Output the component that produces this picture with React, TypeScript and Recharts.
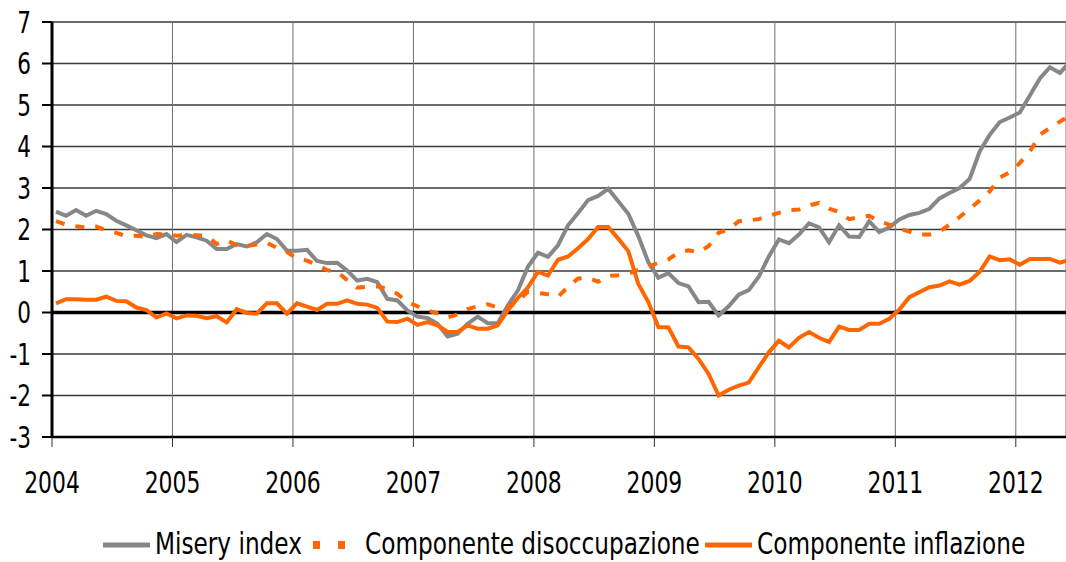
import { LineChart, Line, XAxis, YAxis, CartesianGrid, ReferenceLine, Legend } from "recharts";

const FONT = "'DejaVu Sans Condensed', 'DejaVu Sans', sans-serif";

// Jan 2004 .. Jun 2012, monthly
const yearLabels = ["2004", "2005", "2006", "2007", "2008", "2009", "2010", "2011", "2012"];

const misery = [
  2.43, 2.33, 2.47, 2.33, 2.45, 2.37, 2.21, 2.1, 1.98, 1.86, 1.79, 1.89,
  1.7, 1.87, 1.81, 1.73, 1.53, 1.53, 1.65, 1.59, 1.69, 1.89, 1.77, 1.49,
  1.49, 1.51, 1.24, 1.19, 1.2, 1.01, 0.77, 0.81, 0.73, 0.33, 0.29, 0.05,
  -0.1, -0.13, -0.27, -0.58, -0.51, -0.27, -0.1, -0.26, -0.26, 0.17, 0.53, 1.1,
  1.44, 1.34, 1.62, 2.1, 2.4, 2.71, 2.81, 2.98, 2.68, 2.38, 1.84, 1.21,
  0.84, 0.95, 0.71, 0.63, 0.25, 0.26, -0.07, 0.15, 0.43, 0.54, 0.86, 1.35,
  1.76, 1.67, 1.88, 2.15, 2.05, 1.69, 2.1, 1.83, 1.82, 2.2, 1.94, 2.05,
  2.24, 2.35, 2.4, 2.5, 2.75, 2.88, 3.0, 3.22, 3.88, 4.28, 4.59, 4.7,
  4.82, 5.23, 5.64, 5.91, 5.77, 6.05,
];

const disoccupazione = [
  2.2, 2.12, 2.08, 2.05, 2.07, 1.98, 1.92, 1.84, 1.85, 1.82, 1.89, 1.88,
  1.85, 1.87, 1.86, 1.85, 1.65, 1.74, 1.62, 1.6, 1.64, 1.68, 1.56, 1.46,
  1.3, 1.25, 1.15, 1.02, 0.98, 0.78, 0.6, 0.62, 0.63, 0.57, 0.45, 0.25,
  0.15, 0.05, -0.02, -0.12, -0.05, 0.08, 0.15, 0.2, 0.12, 0.12, 0.28, 0.5,
  0.47, 0.44, 0.38, 0.62, 0.82, 0.84, 0.74, 0.88, 0.9, 0.93, 1.03, 1.1,
  1.2, 1.28, 1.45, 1.5, 1.45, 1.6, 1.92, 2.0, 2.2, 2.22, 2.25, 2.33,
  2.4, 2.47, 2.48, 2.58, 2.64, 2.5, 2.42, 2.25, 2.3, 2.33, 2.2, 2.12,
  2.02, 1.95, 1.88, 1.88, 1.95, 2.12, 2.3, 2.5, 2.7, 2.92, 3.25, 3.38,
  3.6, 3.88, 4.28, 4.45, 4.6, 4.75,
];

const inflazione = [
  0.22, 0.32, 0.32, 0.31, 0.31, 0.38, 0.28, 0.27, 0.12, 0.06, -0.12, -0.02,
  -0.14, -0.07, -0.08, -0.14, -0.09, -0.24, 0.08, -0.01, -0.03, 0.22, 0.22, -0.03,
  0.22, 0.14, 0.06, 0.21, 0.21, 0.29, 0.21, 0.19, 0.11, -0.22, -0.23, -0.15,
  -0.3, -0.23, -0.31, -0.47, -0.47, -0.31, -0.39, -0.39, -0.31, 0.05, 0.35, 0.6,
  0.98, 0.89, 1.27, 1.35, 1.55, 1.77, 2.06, 2.06, 1.78, 1.48, 0.69, 0.25,
  -0.35, -0.36, -0.82, -0.84, -1.12, -1.48, -2.0, -1.86, -1.76, -1.69, -1.32, -0.96,
  -0.68, -0.84, -0.61, -0.47, -0.61, -0.71, -0.34, -0.42, -0.42, -0.27, -0.27, -0.15,
  0.07, 0.37, 0.49, 0.61, 0.65, 0.75, 0.67, 0.76, 0.98, 1.35, 1.26, 1.28,
  1.15, 1.29, 1.29, 1.29, 1.2, 1.27,
];

const yTicks = [-3, -2, -1, 0, 1, 2, 3, 4, 5, 6, 7];

const data = misery.map((v, i) => ({
  i,
  misery: v,
  disoccupazione: disoccupazione[i],
  inflazione: inflazione[i],
}));

// year boundaries sit slightly before the January point
const yearTicks = yearLabels.map((_, k) => k * 12 - 0.4);

const GREY = "#878787";
const ORANGE = "#ff6600";

// the original font is narrow and tall: squeeze DejaVu horizontally
const XTick = (props: any) => {
  const { x, y, payload } = props;
  return (
    <text
      transform={`translate(${x},${y}) scale(0.81,1)`}
      textAnchor="middle"
      dy="0.71em"
      fill="#000"
      fontFamily={FONT}
      fontSize={30}
    >
      {yearLabels[Math.round((payload.value + 0.4) / 12)]}
    </text>
  );
};

const YTick = (props: any) => {
  const { x, y, payload } = props;
  return (
    <text
      transform={`translate(${x},${y}) scale(0.8,1)`}
      textAnchor="end"
      dy="0.355em"
      fill="#000"
      fontFamily={FONT}
      fontSize={30}
    >
      {payload.value}
    </text>
  );
};

const LegendText = ({ x, label }: { x: number; label: string }) => (
  <text transform={`translate(${x},42) scale(0.86,1)`}>{label}</text>
);

const renderLegend = () => (
  <svg width={1066} height={50} style={{ display: "block" }}>
    <g fontFamily={FONT} fontSize={30} fill="#000">
      <line x1={103} y1={33} x2={150} y2={33} stroke={GREY} strokeWidth={5} />
      <LegendText x={155} label="Misery index" />
      <line x1={313} y1={33} x2={345} y2={33} stroke={ORANGE} strokeWidth={8} strokeDasharray="7 18" />
      <LegendText x={365} label="Componente disoccupazione" />
      <line x1={705} y1={33} x2={752} y2={33} stroke={ORANGE} strokeWidth={5} />
      <LegendText x={757} label="Componente inflazione" />
    </g>
  </svg>
);

export default function App() {
  return (
    <div style={{ position: "absolute", left: 0, top: 0, background: "#fff" }}>
      <LineChart
        width={1066}
        height={562}
        data={data}
        margin={{ top: 22, right: 0, left: 0, bottom: 0 }}
      >
        <CartesianGrid vertical={false} stroke="#3a3a3a" strokeWidth={1.3} />
        <CartesianGrid horizontal={false} stroke="#707070" strokeWidth={1} />
        <XAxis
          type="number"
          dataKey="i"
          domain={[-0.4, 100.6]}
          allowDataOverflow
          ticks={yearTicks}
          height={75}
          tickSize={10}
          tickMargin={25}
          axisLine={{ stroke: "#000", strokeWidth: 2.5 }}
          tickLine={{ stroke: "#333", strokeWidth: 1 }}
          tick={<XTick />}
          interval={0}
        />
        <YAxis
          domain={[-3, 7]}
          ticks={yTicks}
          allowDataOverflow
          width={52}
          tickSize={10}
          tickMargin={11}
          axisLine={{ stroke: "#000", strokeWidth: 3 }}
          tickLine={{ stroke: "#000", strokeWidth: 2 }}
          tick={<YTick />}
          interval={0}
        />
        <ReferenceLine y={0} stroke="#000" strokeWidth={3.5} />
        <Line
          type="linear"
          dataKey="misery"
          stroke={GREY}
          strokeWidth={4}
          dot={false}
          isAnimationActive={false}
        />
        <Line
          type="linear"
          dataKey="disoccupazione"
          stroke={ORANGE}
          strokeWidth={4}
          strokeDasharray="9 11"
          dot={false}
          isAnimationActive={false}
        />
        <Line
          type="linear"
          dataKey="inflazione"
          stroke={ORANGE}
          strokeWidth={4}
          dot={false}
          isAnimationActive={false}
        />
        <Legend verticalAlign="bottom" height={50} content={renderLegend} />
      </LineChart>
    </div>
  );
}
